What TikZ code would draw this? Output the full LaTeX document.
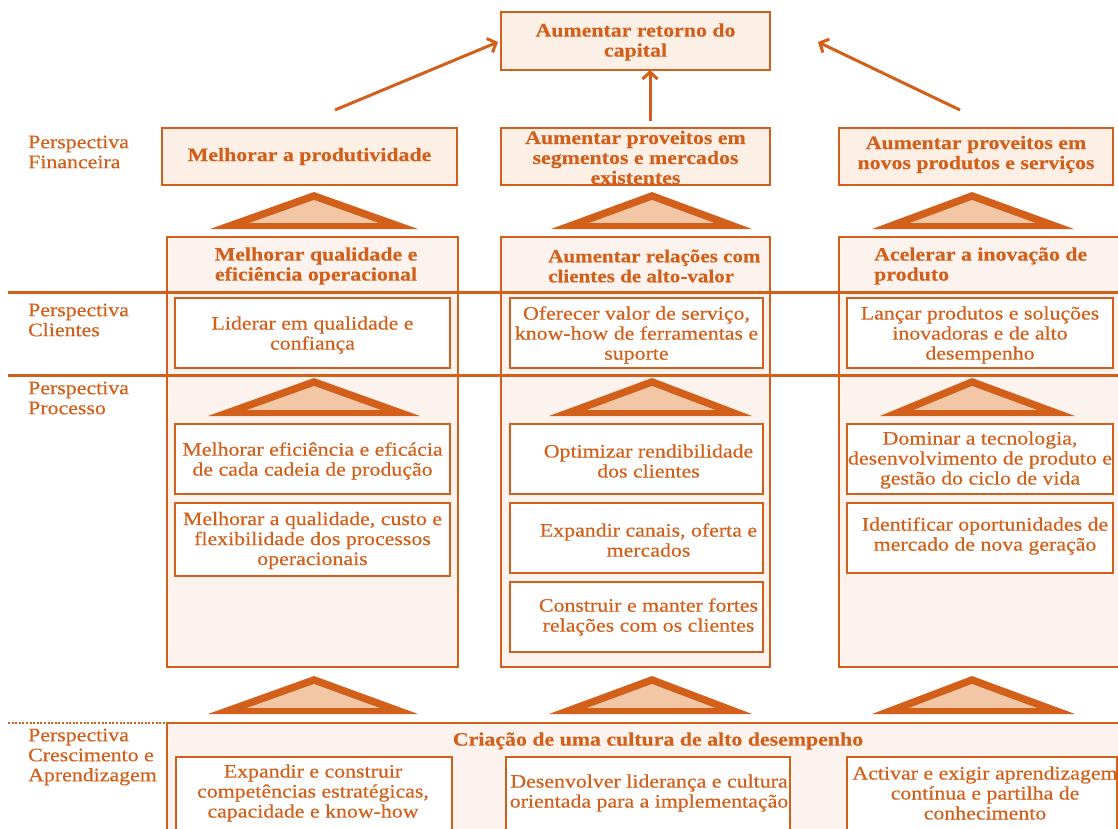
\documentclass[tikz,border=0pt]{standalone}
\usepackage{fontspec}
\setmainfont{Liberation Serif}[FakeStretch=1.15, FakeBold=0.5]
\usetikzlibrary{arrows.meta,calc}
\definecolor{org}{HTML}{D2601A}
\definecolor{peach}{HTML}{FCEFE6}
\definecolor{colfill}{HTML}{FCF3EE}
\definecolor{trifill}{HTML}{F3C6A5}
\newcommand\mkbox[6]{\node[#1, minimum width={#5-#3}, minimum height={#6-#4}] (#2) at ({(#3+#5)/2},{(#4+#6)/2}) {};}
\newcommand\mktri[5]{%
  \fill[org] (#3,#5) -- (#1,#2) -- (#4,#5) -- cycle;
  \begin{scope}
    \clip (#3,#2) rectangle (#4,{#5-7});
    \fill[trifill] (#3,{#5+8}) -- (#1,{#2+8}) -- (#4,{#5+8}) -- cycle;
  \end{scope}}
\tikzset{
  bx/.style={draw=org, line width=2.5pt, fill=peach, inner sep=0pt, outer sep=0pt},
  colbx/.style={draw=org, line width=2.5pt, fill=colfill, inner sep=0pt, outer sep=0pt},
  wbx/.style={draw=org, line width=2.2pt, fill=white, inner sep=0pt, outer sep=0pt},
  txt/.style={text=org, font=\fontsize{19}{20}\selectfont, align=center, inner sep=0pt},
  btxt/.style={txt, font=\fontsize{19}{20}\selectfont\bfseries},
  lbl/.style={txt, align=left, anchor=west},
  sepline/.style={draw=org, line width=3pt},
  arr/.style={draw=org, line width=3pt, -{Straight Barb[length=7pt,width=15pt,line width=3pt]}}
}
\begin{document}
\begin{tikzpicture}[x=1pt,y=-1pt]
\useasboundingbox (0,0) rectangle (1118,829);
\clip (0,0) rectangle (1118,829);
\fill[white] (0,0) rectangle (1118,829);

% top
\mkbox{bx}{top}{501}{12}{770}{70}
\node[btxt] at ($(top)+(0,1)$) {Aumentar retorno do\\capital};

% financial row
\mkbox{bx}{f1}{162}{128}{457}{185}
\mkbox{bx}{f2}{501}{128}{770}{185}
\mkbox{bx}{f3}{839}{128}{1113}{185}
\node[btxt] at (f1) {Melhorar a produtividade};
\node[btxt] at ($(f2)+(0,1)$) {Aumentar proveitos em\\segmentos e mercados\\existentes};
\node[btxt] at ($(f3)+(0,-2)$) {Aumentar proveitos em\\novos produtos e serviços};

% arrows
\coordinate (s1) at (335,110);
\coordinate (s2) at (650,121);
\coordinate (s3) at (960,110);
\coordinate (e3) at (818,42);
\draw[arr] (s1) -- ($(top.west)+(-3,1)$);
\draw[arr] (s2) -- (s2 |- top.south);
\draw[arr] (s3) -- (e3);

% triangles row 1
\mktri{314}{192}{210}{418}{229}
\mktri{652}{192}{551}{752}{229}
\mktri{972}{192}{872}{1074}{229}

% columns
\mkbox{colbx}{c1}{167}{237}{458}{667}
\mkbox{colbx}{c2}{501}{237}{770}{667}
\mkbox{colbx}{c3}{839}{237}{1125}{667}
\node[btxt] at (316,266) {Melhorar qualidade e\\eficiência operacional};
\node[btxt, align=left, anchor=west, font=\fontsize{18.3}{20}\selectfont\bfseries] at (548,266) {Aumentar relações com\\clientes de alto-valor};
\node[btxt, align=left, anchor=west] at (874,266) {Acelerar a inovação de\\produto};

% separator lines
\coordinate (l1a) at (8,292);
\coordinate (l1b) at (1118,292);
\coordinate (l2a) at (8,375);
\coordinate (l2b) at (1118,375);
\draw[sepline] (l1a) -- (l1b);
\draw[sepline] (l2a) -- (l2b);

% perspective labels
\node[lbl] at (28,152) {Perspectiva\\Financeira};
\node[lbl] at (28,320) {Perspectiva\\Clientes};
\node[lbl] at (28,398) {Perspectiva\\Processo};
\node[lbl] at (28,757) {Perspectiva\\Crescimento e\\Aprendizagem};

% clientes boxes
\mkbox{wbx}{k1}{175}{298}{450}{368}
\mkbox{wbx}{k2}{510}{298}{763}{368}
\mkbox{wbx}{k3}{847}{298}{1113}{368}
\node[txt] at ($(k1)+(0,2)$) {Liderar em qualidade e\\confiança};
\node[txt] at ($(k2)+(0,2)$) {Oferecer valor de serviço,\\know-how de ferramentas e\\suporte};
\node[txt] at ($(k3)+(0,2)$) {Lançar produtos e soluções\\inovadoras e de alto\\desempenho};

% processo triangles
\mktri{314}{378}{208}{420}{416}
\mktri{652}{378}{549}{752}{416}
\mktri{972}{378}{880}{1075}{416}

% processo boxes
\mkbox{wbx}{p1}{175}{424}{450}{494}
\mkbox{wbx}{p2}{175}{503}{450}{576}
\mkbox{wbx}{p3}{510}{424}{763}{494}
\mkbox{wbx}{p4}{510}{503}{763}{573}
\mkbox{wbx}{p5}{510}{582}{763}{652}
\mkbox{wbx}{p6}{847}{424}{1113}{494}
\mkbox{wbx}{p7}{847}{503}{1113}{573}
\node[txt] at ($(p1)+(0,2)$) {Melhorar eficiência e eficácia\\de cada cadeia de produção};
\node[txt] at ($(p2)+(0,1)$) {Melhorar a qualidade, custo e\\flexibilidade dos processos\\operacionais};
\node[txt] at ($(p3)+(12,2)$) {Optimizar rendibilidade\\dos clientes};
\node[txt] at ($(p4)+(12,2)$) {Expandir canais, oferta e\\mercados};
\node[txt] at ($(p5)+(12,0)$) {Construir e manter fortes\\relações com os clientes};
\node[txt] at ($(p6)+(0,1)$) {Dominar a tecnologia,\\desenvolvimento de produto e\\gestão do ciclo de vida};
\node[txt] at ($(p7)+(5,-2)$) {Identificar oportunidades de\\mercado de nova geração};

% bottom triangles
\mktri{314}{676}{208}{418}{714}
\mktri{652}{676}{549}{752}{714}
\mktri{972}{676}{872}{1075}{714}

% learning
\coordinate (da) at (8,723);
\coordinate (db) at (165,723);
\draw[org, line width=2.5pt, dash pattern=on 2pt off 1.6pt] (da) -- (db);
\mkbox{colbx}{g}{167}{723}{1125}{840}
\node[btxt] at (658,741) {Criação de uma cultura de alto desempenho};
\mkbox{wbx}{b1}{176}{757}{452}{835}
\mkbox{wbx}{b2}{506}{757}{790}{835}
\mkbox{wbx}{b3}{847}{757}{1117}{835}
\node[txt] at (313,793) {Expandir e construir\\competências estratégicas,\\capacidade e know-how};
\node[txt] at (649,793) {Desenvolver liderança e cultura\\orientada para a implementação};
\node[txt] at (985,793) {Activar e exigir aprendizagem\\contínua e partilha de\\conhecimento};
\end{tikzpicture}
\end{document}
